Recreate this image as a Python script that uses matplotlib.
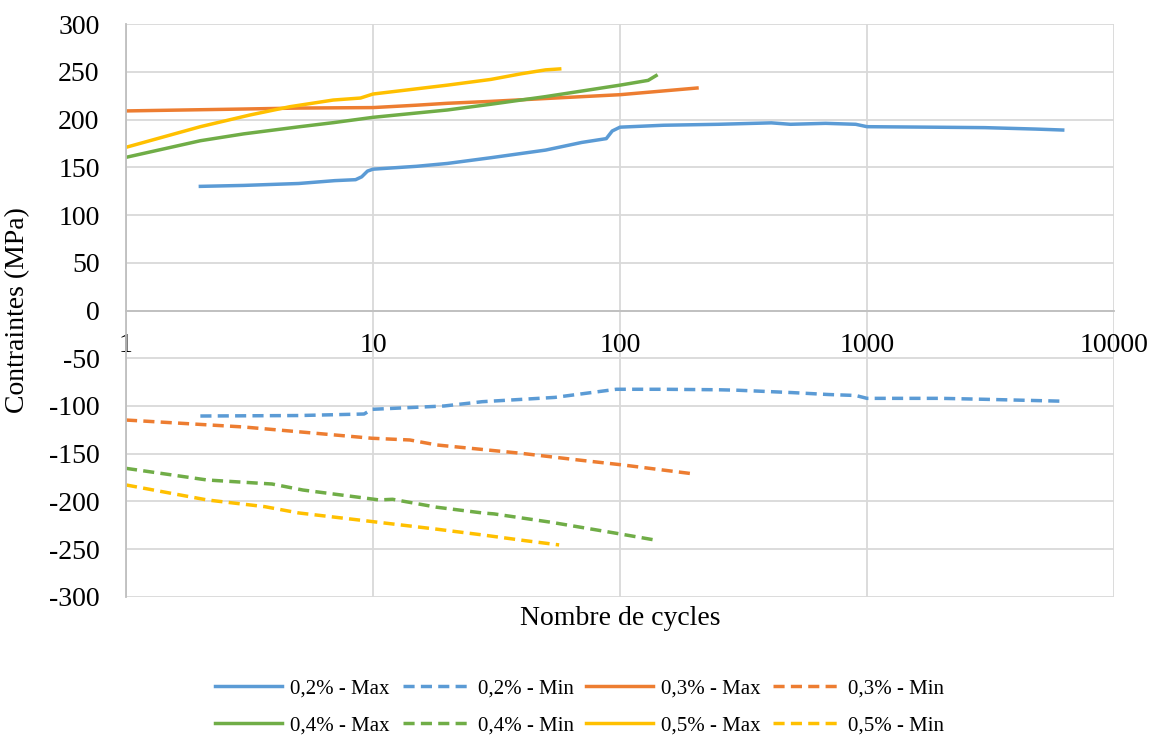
#!/usr/bin/env python3

import numpy as np
import matplotlib
matplotlib.use("Agg")
import matplotlib.pyplot as plt

# 0,2 %
x_02_max = [2, 3, 5, 7, 8.5, 9, 9.5, 10, 15, 20, 30, 50, 70, 88, 93, 100, 150, 250,
            410, 490, 680, 900, 1000, 1780, 3000, 4830, 6200]
y_02_max = [130, 131, 133, 136, 137, 140, 146, 148, 151, 154, 160, 168, 176, 180, 188, 192, 194, 195,
            196.5, 195, 196, 195, 192.5, 192, 191.5, 190, 189]
x_02_min = [2, 5, 9.2, 9.9, 19.4, 27.7, 54.5, 96.6, 150, 250, 300, 500, 700, 900, 1000, 2000, 3000, 6200]
y_02_min = [-110.5, -110, -108.4, -103.5, -100, -95.5, -91, -82.5, -82.5, -83, -83.5, -86, -88, -89, -92, -92, -93, -95]

# 0,3 %
x_03_max = [1, 3, 5, 10, 15, 20, 30, 50, 100, 205]
y_03_max = [209, 211, 212, 212.5, 215, 217, 219, 222, 226, 233]
x_03_min = [1, 3, 5, 9.9, 14.1, 18.1, 39.6, 67.6, 103, 197]
y_03_min = [-114.7, -122, -127, -133.8, -135.6, -140.8, -149.5, -156.5, -161.8, -171]

# 0,4 %
x_04_max = [1, 2, 3, 5.06, 6.9, 10, 20, 30, 50, 100, 130, 140]
y_04_max = [160.4, 177.8, 185, 192.5, 196.7, 202.3, 210, 216, 224, 236, 241, 246]
x_04_min = [1, 2.13, 3.9, 5.2, 10.6, 12, 18.1, 27.7, 30.9, 52.7, 96.6, 138]
y_04_min = [-165.3, -177.5, -181.7, -188, -198.4, -197.7, -206, -212, -213, -221.8, -233.3, -240.3]

# 0,5 %
x_05_max = [1, 2, 3.17, 4.6, 6.9, 8.9, 10, 20, 30, 40, 50, 57]
y_05_max = [170.9, 192.5, 204.7, 213.4, 220.4, 222.5, 226.7, 236, 242, 248, 252, 253]
x_05_min = [1, 2.13, 3.64, 5.0, 9.9, 18.1, 27.7, 41.2, 56.7]
y_05_min = [-182.7, -198.4, -205.4, -212, -221, -229, -235, -241, -245.5]

plt.rcParams['font.family'] = ['Liberation Serif', 'DejaVu Serif']
plt.rcParams['axes.unicode_minus'] = False

fig = plt.figure(figsize=(11.55, 7.35), dpi=100)
ax = fig.add_axes([0.1091, 0.1878, 0.8554, 0.7795])

series = [
    (x_02_max, y_02_max, '#5B9BD5', '-', '0,2% - Max'),
    (x_02_min, y_02_min, '#5B9BD5', '--', '0,2% - Min'),
    (x_03_max, y_03_max, '#ED7D31', '-', '0,3% - Max'),
    (x_03_min, y_03_min, '#ED7D31', '--', '0,3% - Min'),
    (x_04_max, y_04_max, '#70AD47', '-', '0,4% - Max'),
    (x_04_min, y_04_min, '#70AD47', '--', '0,4% - Min'),
    (x_05_max, y_05_max, '#FFC000', '-', '0,5% - Max'),
    (x_05_min, y_05_min, '#FFC000', '--', '0,5% - Min'),
]
handles = []
for xs, ys, c, ls, lab in series:
    if ls == '--':
        h, = ax.plot(xs, ys, color=c, lw=2.5, linestyle=(0, (3.2, 1.8)), label=lab)
    else:
        h, = ax.plot(xs, ys, color=c, lw=2.5, label=lab)
    handles.append(h)

ax.set_xscale('log')
ax.set_xlim(1, 10000)
ax.set_ylim(-300, 300)
ax.set_xticks([1, 10, 100, 1000, 10000])
ax.set_xticklabels(['1', '10', '100', '1000', '10000'])
ax.xaxis.set_minor_locator(matplotlib.ticker.NullLocator())
ax.set_yticks(np.arange(-300, 301, 50))

ax.grid(True, color='#d9d9d9', lw=1.3)
ax.set_axisbelow(True)
for s in ['top', 'right']:
    ax.spines[s].set_visible(False)
ax.spines['left'].set_color('#bfbfbf')
ax.spines['left'].set_linewidth(1.3)
ax.spines['bottom'].set_position(('data', 0))
ax.spines['bottom'].set_color('#bfbfbf')
ax.spines['bottom'].set_linewidth(1.3)

ax.tick_params(axis='both', length=0, labelsize=20)
ax.tick_params(axis='y', pad=19)
ax.tick_params(axis='x', pad=16)

ax.set_xlabel('Nombre de cycles', fontsize=20)
ax.xaxis.set_label_coords(0.5, -0.015)
ax.set_ylabel('Contraintes (MPa)', fontsize=20)
ax.yaxis.set_label_coords(-0.097, 0.5)

# legend fills column by column, reorder so rows read left to right
order = [0, 4, 1, 5, 2, 6, 3, 7]
fig.legend([handles[i] for i in order], [handles[i].get_label() for i in order],
           loc='center', bbox_to_anchor=(0.502, 0.038), ncol=4, frameon=False,
           fontsize=15, handlelength=3.2, columnspacing=0.6, handletextpad=0.4,
           labelspacing=0.85)

fig.savefig('out.png', dpi=100)
